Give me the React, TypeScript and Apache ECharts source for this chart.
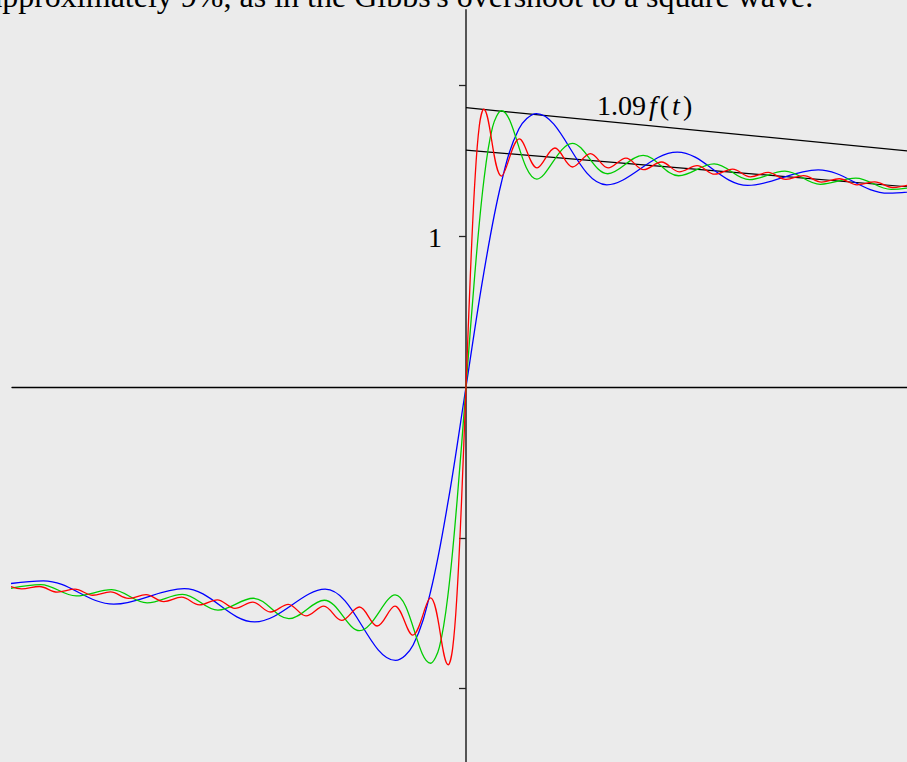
import React, { useEffect, useRef } from "react";
import * as echarts from "echarts";

// Partial sums (positive t side; the curves are odd-symmetric)
// Blue curve
const T_BLUE = [0, 0.0194, 0.0388, 0.0582, 0.0776, 0.1551, 0.2327, 0.3103, 0.3879, 0.4654, 0.543];
const V_BLUE = [0, 0.749, 1.351, 1.711, 1.813, 1.341, 1.558, 1.337, 1.44, 1.285, 1.345];
// Green curve
const T_GREEN = [0, 0.0098, 0.0195, 0.0293, 0.039, 0.0781, 0.1171, 0.1561, 0.1951, 0.2342, 0.2732, 0.3122, 0.3512, 0.3903, 0.4293, 0.4683, 0.5073];
const V_GREEN = [0, 0.754, 1.361, 1.725, 1.832, 1.379, 1.616, 1.414, 1.536, 1.401, 1.48, 1.375, 1.431, 1.344, 1.385, 1.31, 1.342];
// Red curve
const T_RED = [0, 0.0049, 0.0098, 0.0147, 0.0196, 0.0391, 0.0587, 0.0783, 0.0979, 0.1174, 0.137, 0.1566, 0.1762, 0.1957, 0.2153, 0.2349, 0.2545, 0.274, 0.2936, 0.3132, 0.3328, 0.3523, 0.3719, 0.3915, 0.4111, 0.4306, 0.4502, 0.4698, 0.4893, 0.5089];
const V_RED = [0, 0.757, 1.366, 1.733, 1.842, 1.399, 1.645, 1.453, 1.585, 1.459, 1.548, 1.453, 1.518, 1.441, 1.492, 1.427, 1.468, 1.411, 1.445, 1.394, 1.423, 1.377, 1.402, 1.359, 1.381, 1.341, 1.36, 1.323, 1.339, 1.304];

// Reference lines f(t) and 1.09 f(t), right side only
const LINE_T = [0, 0.5];
const F_LINE = [1.5708, 1.3208];
const F109_LINE = [1.852, 1.557];

// Axis
const X_MIN = -0.5;
const X_MAX = 0.4857;
const Y_MIN = -2.5;
const Y_MAX = 2.5;
const Y_TICKS = [-2, -1, 1, 2];
const Y_LABEL = "1";

const TOP_TEXT = "approximately 9%, as in the Gibbs's overshoot to a square wave.";
const SERIF = "Liberation Serif";

function odd(t: number[], v: number[]): number[][] {
  const neg: number[][] = [];
  for (let i = t.length - 1; i >= 1; i--) neg.push([-t[i], -v[i]]);
  const pos = t.map((x, i) => [x, v[i]]);
  return neg.concat(pos);
}

function pairs(t: number[], v: number[]): number[][] {
  return t.map((x, i) => [x, v[i]]);
}

export default function App() {
  const ref = useRef<HTMLDivElement>(null);
  useEffect(() => {
    if (!ref.current) return;
    const chart = echarts.init(ref.current, null, { renderer: "svg" });
    const curve = (name: string, data: number[][], color: string) => ({
      name,
      type: "line",
      data,
      showSymbol: false,
      symbol: "none",
      smooth: 0.36,
      lineStyle: { color, width: 1.3 },
      silent: true,
    });
    chart.setOption({
      animation: false,
      backgroundColor: "#ebebeb",
      grid: {
        left: 12,
        right: 0,
        top: 10,
        height: 754,
        containLabel: false,
        outerBoundsMode: "none",
      },
      xAxis: {
        type: "value",
        min: X_MIN,
        max: X_MAX,
        axisLine: { onZero: true, lineStyle: { color: "#000", width: 1.3 } },
        axisTick: { show: false },
        axisLabel: { show: false },
        splitLine: { show: false },
      },
      yAxis: {
        type: "value",
        min: Y_MIN,
        max: Y_MAX,
        axisLine: { onZero: true, lineStyle: { color: "#555", width: 2 } },
        axisTick: {
          show: true,
          length: 7,
          customValues: Y_TICKS,
          lineStyle: { color: "#222", width: 1.3 },
        },
        axisLabel: { show: false },
        splitLine: { show: false },
      },
      series: [
        {
          type: "line",
          data: pairs(LINE_T, F_LINE),
          showSymbol: false,
          symbol: "none",
          lineStyle: { color: "#000", width: 1.2 },
          silent: true,
        },
        {
          type: "line",
          data: pairs(LINE_T, F109_LINE),
          showSymbol: false,
          symbol: "none",
          lineStyle: { color: "#000", width: 1.2 },
          silent: true,
        },
        curve("blue", odd(T_BLUE, V_BLUE), "#0000ff"),
        curve("green", odd(T_GREEN, V_GREEN), "#00cc00"),
        curve("red", odd(T_RED, V_RED), "#ff0000"),
      ],
      graphic: [
        {
          type: "text",
          x: -12,
          y: -4,
          silent: true,
          style: {
            text: TOP_TEXT,
            fontSize: 32,
            fontFamily: SERIF,
            fill: "#000",
            verticalAlign: "middle",
          },
        },
        {
          type: "text",
          x: 442,
          y: 237,
          silent: true,
          style: {
            text: Y_LABEL,
            fontSize: 28,
            fontFamily: SERIF,
            fill: "#000",
            align: "right",
            verticalAlign: "middle",
          },
        },
        {
          type: "text",
          x: 597,
          y: 105,
          silent: true,
          style: {
            text: "{n|1.09}{i|f}{n|(}{i|t}{n|)}",
            fill: "#000",
            verticalAlign: "middle",
            rich: {
              n: { fontSize: 28, fontFamily: SERIF, fill: "#000" },
              i: { fontSize: 28, fontFamily: SERIF, fontStyle: "italic", fill: "#000", padding: [0, 3, 0, 3] },
            },
          },
        },
      ],
    });
    return () => chart.dispose();
  }, []);
  return (
    <div
      ref={ref}
      style={{ position: "absolute", left: 0, top: 0, width: 907, height: 762, background: "#ebebeb" }}
    />
  );
}
